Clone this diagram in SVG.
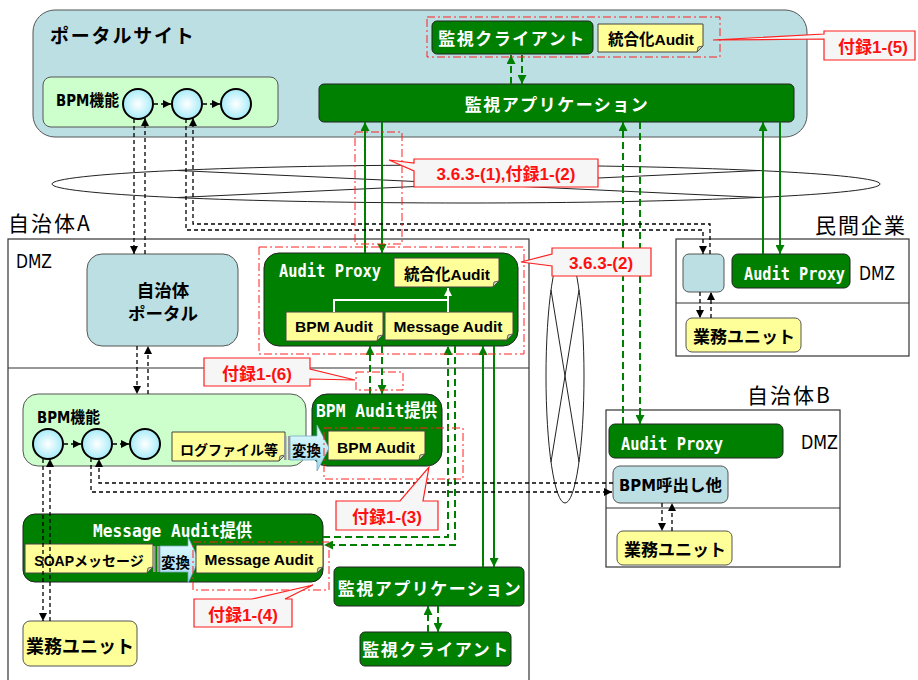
<svg xmlns="http://www.w3.org/2000/svg" width="918" height="680" viewBox="0 0 918 680">
<style>
.jp{font-family:"Noto Sans CJK JP",sans-serif}
.jb{font-family:"Noto Sans CJK JP",sans-serif;font-weight:bold}
.lb{font-family:"Liberation Sans","Noto Sans CJK JP",sans-serif;font-weight:bold}
.mono{font-family:"DejaVu Sans Mono","Noto Sans CJK JP",monospace;fill:#fff;font-weight:bold}
.cond{font-family:"DejaVu Sans Condensed","Noto Sans CJK JP",sans-serif}
.wt{fill:#fff;font-family:"Noto Sans CJK JP",sans-serif;font-weight:bold;font-size:17px;letter-spacing:1.5px;text-anchor:middle}
.green{fill:#008000;stroke:#222;stroke-width:1}
.blue{fill:#bcdfe3;stroke:#555;stroke-width:1}
.yel{fill:#ffff99;stroke:#555;stroke-width:1}
.note{fill:#ffff99;stroke:#444;stroke-width:1}
.fold{fill:#d0d0b0;stroke:#444;stroke-width:0.8}
.lite{fill:#ccffcc;stroke:#555;stroke-width:1}
.circ{fill:url(#cg);stroke:#000;stroke-width:2}
.reg{fill:none;stroke:#333;stroke-width:1.2}
.rdd{fill:none;stroke:#ff2020;stroke-width:1;stroke-dasharray:8 3 2 3}
.call{fill:#f6f6f6;stroke:#ff2020;stroke-width:1.2}
.ct{fill:#ff1010;font-family:"Liberation Sans","Noto Sans CJK JP",sans-serif;font-weight:bold;font-size:17px;text-anchor:middle}
.bd{fill:none;stroke:#000;stroke-width:1.3;stroke-dasharray:4 3}
.gd{fill:none;stroke:#008000;stroke-width:2;stroke-dasharray:7 4}
.gs{fill:none;stroke:#008000;stroke-width:2}
.net{fill:none;stroke:#222;stroke-width:1}
.nt{font-family:"Liberation Sans","Noto Sans CJK JP",sans-serif;font-weight:bold;font-size:15.5px;text-anchor:middle;fill:#000}
</style>
<defs>
<radialGradient id="cg" cx="0.5" cy="0.5" r="0.5">
<stop offset="0" stop-color="#ffffff"/>
<stop offset="1" stop-color="#a6ecf8"/>
</radialGradient>
<linearGradient id="ag" x1="0" y1="0" x2="0" y2="1">
<stop offset="0" stop-color="#e6ffff"/>
<stop offset="1" stop-color="#9fd8f0"/>
</linearGradient>
<marker id="ab" viewBox="0 0 10 10" refX="10" refY="5" markerWidth="8" markerHeight="8" markerUnits="userSpaceOnUse" orient="auto"><path d="M0,0 L10,5 L0,10 z" fill="#000"/></marker>
<marker id="ag2" viewBox="0 0 10 10" refX="10" refY="5" markerWidth="9" markerHeight="9" markerUnits="userSpaceOnUse" orient="auto"><path d="M0,0 L10,5 L0,10 z" fill="#008000"/></marker>
<marker id="aw" viewBox="0 0 10 10" refX="10" refY="5" markerWidth="8" markerHeight="8" markerUnits="userSpaceOnUse" orient="auto"><path d="M0,0 L10,5 L0,10 z" fill="#fff"/></marker>
</defs>

<rect width="918" height="680" fill="#fff"/>

<!-- network shapes -->
<g id="networks">
<ellipse class="net" cx="466" cy="184" rx="414" ry="19"/>
<line class="net" x1="178" y1="170.5" x2="760" y2="197.5"/>
<line class="net" x1="178" y1="197.5" x2="760" y2="170.5"/>
<ellipse class="net" cx="565" cy="376" rx="19" ry="127"/>
<line class="net" x1="551" y1="290" x2="579" y2="462"/>
<line class="net" x1="579" y1="290" x2="551" y2="462"/>
</g>

<!-- region boxes -->
<g id="regions">
<text class="jp" x="8" y="231" font-size="21" letter-spacing="2">自治体A</text>
<rect class="reg" x="8" y="239" width="521" height="455"/>
<line class="reg" x1="8" y1="368" x2="529" y2="368"/>
<text class="cond" x="16" y="268" font-size="20" textLength="36" lengthAdjust="spacingAndGlyphs">DMZ</text>
<text class="jp" x="815" y="233" font-size="21" letter-spacing="2">民間企業</text>
<rect class="reg" x="676" y="239" width="233" height="117"/>
<line class="reg" x1="676" y1="303" x2="909" y2="303"/>
<text class="cond" x="859" y="280" font-size="20" textLength="36" lengthAdjust="spacingAndGlyphs">DMZ</text>
<text class="jp" x="747" y="403" font-size="21" letter-spacing="2">自治体B</text>
<rect class="reg" x="606" y="410" width="234" height="157"/>
<line class="reg" x1="606" y1="508" x2="840" y2="508"/>
<text class="cond" x="801" y="449" font-size="20" textLength="37" lengthAdjust="spacingAndGlyphs">DMZ</text>
</g>

<!-- portal site -->
<g id="portal">
<rect class="blue" x="33" y="10" width="774" height="127" rx="22"/>
<text class="jb" x="50" y="43" font-size="19" letter-spacing="1.8">ポータルサイト</text>
</g>
<g id="bpm-top">
<rect class="lite" x="43" y="77" width="235" height="50" rx="8"/>
<text class="cond" x="56" y="106" font-size="16" font-weight="bold" textLength="63" lengthAdjust="spacingAndGlyphs">BPM機能</text>
<circle class="circ" cx="138" cy="104" r="15"/>
<circle class="circ" cx="187" cy="104" r="15"/>
<circle class="circ" cx="236" cy="104" r="15"/>
<line class="bd" x1="154" y1="104" x2="171" y2="104" marker-end="url(#ab)"/>
<line class="bd" x1="203" y1="104" x2="220" y2="104" marker-end="url(#ab)"/>
</g>
<g id="app-top">
<rect class="green" x="319" y="84" width="475" height="38" rx="5"/>
<text class="wt" x="557" y="111">監視アプリケーション</text>
</g>
<g id="client-top">
<rect class="green" x="432" y="21" width="161" height="33" rx="5"/>
<text class="wt" x="512" y="45">監視クライアント</text>
</g>
<g id="audit-top">
<path class="note" d="M598,24 H703 V46 L697,52 H598 Z"/>
<path class="fold" d="M703,46 L697,52 L698,47 Z"/>
<text class="nt" x="651" y="45" font-size="15">統合化Audit</text>
</g>

<!-- Jichitai A -->
<g id="jportal">
<rect class="blue" x="87" y="254" width="151" height="92" rx="15"/>
<text class="jb" x="163" y="297" font-size="17.5" text-anchor="middle">自治体</text>
<text class="jb" x="163" y="320" font-size="17.5" text-anchor="middle">ポータル</text>
</g>
<g id="proxyA">
<rect class="green" x="264" y="253" width="254" height="93" rx="15"/>
<text class="mono" x="279" y="277" font-size="18" textLength="102" lengthAdjust="spacingAndGlyphs">Audit Proxy</text>
<path class="note" d="M394,258 H499 V281 L493,287 H394 Z"/>
<path class="fold" d="M499,281 L493,287 L494,282 Z"/>
<text class="nt" x="447" y="280" font-size="15">統合化Audit</text>
<path class="note" d="M286,312 H383 V335 L377,341 H286 Z"/>
<path class="fold" d="M383,335 L377,341 L378,336 Z"/>
<text class="nt" x="334" y="332">BPM Audit</text>
<path class="note" d="M385,312 H513 V334 L507,340 H385 Z"/>
<path class="fold" d="M513,334 L507,340 L508,335 Z"/>
<text class="nt" x="448" y="332">Message Audit</text>
<polyline points="334,312 334,300 448,300" fill="none" stroke="#fff" stroke-width="2"/>
<line x1="448" y1="312" x2="448" y2="288" stroke="#fff" stroke-width="2" marker-end="url(#aw)"/>
</g>
<g id="bpmA">
<rect class="lite" x="23" y="394" width="283" height="72" rx="15"/>
<text class="cond" x="37" y="423" font-size="16" font-weight="bold" textLength="63" lengthAdjust="spacingAndGlyphs">BPM機能</text>
<circle class="circ" cx="48" cy="444" r="15"/>
<circle class="circ" cx="97" cy="444" r="15"/>
<circle class="circ" cx="145" cy="444" r="15"/>
<line class="bd" x1="64" y1="444" x2="81" y2="444" marker-end="url(#ab)"/>
<line class="bd" x1="113" y1="444" x2="129" y2="444" marker-end="url(#ab)"/>
<path class="note" d="M172,432 H285 V455 L279,461 H172 Z"/>
<path class="fold" d="M285,455 L279,461 L280,456 Z"/>
<text class="jb" x="229" y="455" font-size="14" text-anchor="middle">ログファイル等</text>
</g>
<g id="bpmAuditProv">
<rect class="green" x="312" y="394" width="130" height="72" rx="15"/>
<text class="mono" x="316" y="417" font-size="18" textLength="121" lengthAdjust="spacingAndGlyphs">BPM Audit提供</text>
<path class="note" d="M328,431 H425 V454 L419,460 H328 Z"/>
<path class="fold" d="M425,454 L419,460 L420,455 Z"/>
<text class="nt" x="376" y="453">BPM Audit</text>
</g>
<g id="convA">
<rect x="284" y="436" width="2.5" height="24" fill="#999"/>
<rect x="288" y="436" width="2.5" height="24" fill="#999"/>
<path d="M290,436 H317 V425 L329,448 L317,471 V460 H290 Z" fill="url(#ag)" stroke="#7ab" stroke-width="0.8"/>
<text class="jb" x="292" y="456" font-size="14.5">変換</text>
</g>
<g id="msgAuditProv">
<rect class="green" x="23" y="514" width="300" height="68" rx="12"/>
<text class="mono" x="93" y="537" font-size="18" textLength="159" lengthAdjust="spacingAndGlyphs">Message Audit提供</text>
<path class="note" d="M25,544 H153 V567 L147,573 H25 Z"/>
<path class="fold" d="M153,567 L147,573 L148,568 Z"/>
<text class="lb" x="89" y="566" font-size="14" text-anchor="middle">SOAPメッセージ</text>
<rect x="153" y="546" width="2.5" height="26" fill="#999"/>
<rect x="157" y="546" width="2.5" height="26" fill="#999"/>
<path d="M160,546 H188 V537 L199,560 L188,583 V572 H160 Z" fill="url(#ag)" stroke="#7ab" stroke-width="0.8"/>
<text class="jb" x="161" y="568" font-size="14.5">変換</text>
<path class="note" d="M196,545 H323 V567 L317,573 H196 Z"/>
<path class="fold" d="M323,567 L317,573 L318,568 Z"/>
<text class="nt" x="259" y="565">Message Audit</text>
</g>
<g id="gyomuA">
<rect class="yel" x="23" y="621" width="114" height="45" rx="7"/>
<text class="jb" x="80" y="653" font-size="18" text-anchor="middle">業務ユニット</text>
</g>
<g id="appA">
<rect class="green" x="334" y="567" width="190" height="39" rx="5"/>
<text class="wt" x="430" y="595">監視アプリケーション</text>
</g>
<g id="clientA">
<rect class="green" x="360" y="632" width="151" height="34" rx="5"/>
<text class="wt" x="436" y="656">監視クライアント</text>
</g>

<!-- Minkan -->
<g id="minkan-box">
<rect class="blue" x="683" y="254" width="41" height="38" rx="6"/>
</g>
<g id="proxyM">
<rect class="green" x="732" y="254" width="118" height="34" rx="6"/>
<text class="mono" x="744" y="280" font-size="18" textLength="101" lengthAdjust="spacingAndGlyphs">Audit Proxy</text>
</g>
<g id="gyomuM">
<rect class="yel" x="686" y="318" width="115" height="34" rx="6"/>
<text class="jb" x="744" y="343" font-size="17" text-anchor="middle">業務ユニット</text>
</g>

<!-- Jichitai B -->
<g id="proxyB">
<rect class="green" x="609" y="424" width="174" height="34" rx="6"/>
<text class="mono" x="621" y="450" font-size="18" textLength="102" lengthAdjust="spacingAndGlyphs">Audit Proxy</text>
</g>
<g id="bpmcallB">
<rect class="blue" x="613" y="466" width="115" height="37" rx="7"/>
<text class="cond" x="619" y="491" font-size="16" font-weight="bold" textLength="103" lengthAdjust="spacingAndGlyphs">BPM呼出し他</text>
</g>
<g id="gyomuB">
<rect class="yel" x="617" y="531" width="115" height="34" rx="6"/>
<text class="jb" x="675" y="556" font-size="17" text-anchor="middle">業務ユニット</text>
</g>

<!-- connectors -->
<g id="connectors">
<line class="gd" x1="511" y1="84" x2="511" y2="55" marker-end="url(#ag2)"/>
<line class="gd" x1="522" y1="55" x2="522" y2="84" marker-end="url(#ag2)"/>
<line class="gs" x1="365" y1="253" x2="365" y2="122" marker-end="url(#ag2)"/>
<line class="gs" x1="382" y1="122" x2="382" y2="253" marker-end="url(#ag2)"/>
<line class="gd" x1="623" y1="424" x2="623" y2="122" marker-end="url(#ag2)"/>
<line class="gd" x1="640" y1="122" x2="640" y2="424" marker-end="url(#ag2)"/>
<line class="gs" x1="763" y1="254" x2="763" y2="122" marker-end="url(#ag2)"/>
<line class="gs" x1="780" y1="122" x2="780" y2="254" marker-end="url(#ag2)"/>
<line class="gd" x1="370" y1="394" x2="370" y2="346" marker-end="url(#ag2)"/>
<line class="gd" x1="382" y1="346" x2="382" y2="394" marker-end="url(#ag2)"/>
<polyline class="gd" points="323,537 448,537 448,346" marker-end="url(#ag2)"/>
<polyline class="gd" points="455,346 455,545 324,545" marker-end="url(#ag2)"/>
<line class="gs" x1="483" y1="567" x2="483" y2="346" marker-end="url(#ag2)"/>
<line class="gs" x1="494" y1="346" x2="494" y2="567" marker-end="url(#ag2)"/>
<line class="gd" x1="428" y1="632" x2="428" y2="606" marker-end="url(#ag2)"/>
<line class="gd" x1="438" y1="606" x2="438" y2="632" marker-end="url(#ag2)"/>

<line class="bd" x1="134" y1="119" x2="134" y2="254" marker-end="url(#ab)"/>
<line class="bd" x1="145" y1="254" x2="145" y2="118" marker-end="url(#ab)"/>
<polyline class="bd" points="710,254 710,224 193,224 193,118" marker-end="url(#ab)"/>
<polyline class="bd" points="186,119 186,230 703,230 703,254" marker-end="url(#ab)"/>
<line class="bd" x1="137" y1="346" x2="137" y2="394" marker-end="url(#ab)"/>
<line class="bd" x1="148" y1="394" x2="148" y2="346" marker-end="url(#ab)"/>
<line class="bd" x1="700" y1="292" x2="700" y2="318" marker-end="url(#ab)"/>
<line class="bd" x1="711" y1="318" x2="711" y2="292" marker-end="url(#ab)"/>
<line class="bd" x1="662" y1="503" x2="662" y2="531" marker-end="url(#ab)"/>
<line class="bd" x1="672" y1="531" x2="672" y2="503" marker-end="url(#ab)"/>
<polyline class="bd" points="613,483 99,483 99,459" marker-end="url(#ab)"/>
<polyline class="bd" points="91,458 91,492 612,492" marker-end="url(#ab)"/>
<line class="bd" x1="43" y1="459" x2="43" y2="621" marker-end="url(#ab)"/>
<line class="bd" x1="50" y1="621" x2="50" y2="459" marker-end="url(#ab)"/>
</g>

<!-- red dash-dot groupings -->
<g id="groupings">
<rect class="rdd" x="427" y="17" width="293" height="40"/>
<rect class="rdd" x="355" y="132" width="47" height="112"/>
<rect class="rdd" x="259" y="247" width="265" height="107"/>
<rect class="rdd" x="356" y="372" width="47" height="18"/>
<rect class="rdd" x="324" y="428" width="139" height="51"/>
<rect class="rdd" x="193" y="542" width="136" height="48"/>
</g>

<!-- callouts -->
<g id="callout-5">
<path class="call" d="M824,31 H915 V60 H824 V39 L713,40 L824,34 Z"/>
<text class="ct" x="873" y="53">付録1-(5)</text>
</g>
<g id="callout-1-2">
<path class="call" d="M414,159 H598 V187 H414 V171 L389,160 L414,163 Z"/>
<text class="ct" x="506" y="180">3.6.3-(1),付録1-(2)</text>
</g>
<g id="callout-2">
<path class="call" d="M552,248 H651 V276 H552 V266 L521,262 L552,254 Z"/>
<text class="ct" x="601" y="269">3.6.3-(2)</text>
</g>
<g id="callout-6">
<path class="call" d="M204,358 H310 V369 L355,380 L310,379 V386 H204 Z"/>
<text class="ct" x="257" y="380">付録1-(6)</text>
</g>
<g id="callout-3">
<path class="call" d="M336,501 H400 L429,467 L423,501 H438 V530 H336 Z"/>
<text class="ct" x="387" y="523">付録1-(3)</text>
</g>
<g id="callout-4">
<path class="call" d="M194,599 H252 L313,585 L285,599 H292 V627 H194 Z"/>
<text class="ct" x="243" y="621">付録1-(4)</text>
</g>
</svg>
